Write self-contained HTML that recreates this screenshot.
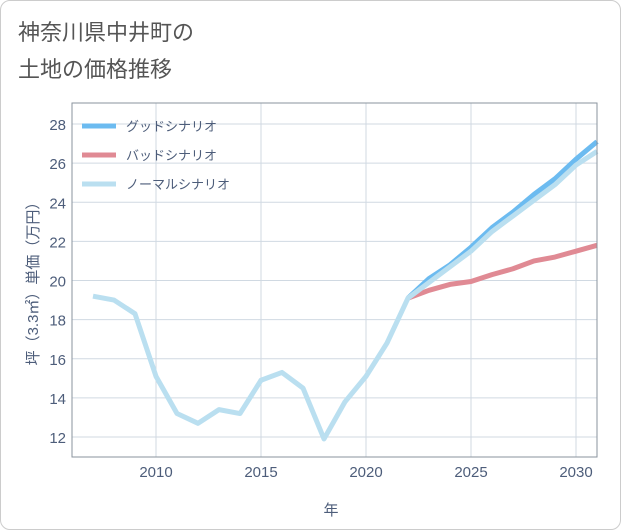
<!DOCTYPE html>
<html><head><meta charset="utf-8"><style>
body{margin:0;background:#fff;font-family:"Liberation Sans","Noto Sans CJK JP",sans-serif;}
#wrap{position:relative;width:619px;height:528px;border:1px solid #ccc;border-radius:10px;background:#fff;overflow:hidden}
</style></head><body>
<div id="wrap">
<svg id="chart" width="621" height="530" style="position:absolute;left:-1px;top:-1px">
<text x="18" y="40" font-size="22" fill="#555">神奈川県中井町の</text>
<text x="18" y="77" font-size="22" fill="#555">土地の価格推移</text>
<g id="grid"></g><g id="series"></g><g id="axes"></g>
<text x="331" y="515" font-size="15" fill="#4d5d7a" text-anchor="middle">年</text>
<text transform="translate(38,280) rotate(-90)" font-size="15" fill="#4d5d7a" text-anchor="middle">坪（3.3㎡）単価（万円）</text>
<g>
<line x1="82" y1="126" x2="116" y2="126" stroke="#6cbbf0" stroke-width="5"/>
<text x="126" y="131" font-size="13" fill="#4d5d7a">グッドシナリオ</text>
<line x1="82" y1="155" x2="116" y2="155" stroke="#e08a94" stroke-width="5"/>
<text x="126" y="160" font-size="13" fill="#4d5d7a">バッドシナリオ</text>
<line x1="82" y1="184" x2="116" y2="184" stroke="#badff0" stroke-width="5"/>
<text x="126" y="189" font-size="13" fill="#4d5d7a">ノーマルシナリオ</text>
</g>
</svg>
</div>
<script>
const years=[2007,2008,2009,2010,2011,2012,2013,2014,2015,2016,2017,2018,2019,2020,2021,2022,2023,2024,2025,2026,2027,2028,2029,2030,2031];
const normalValues=[19.2,19.0,18.3,15.1,13.2,12.7,13.4,13.2,14.9,15.3,14.5,11.9,13.8,15.1,16.8,19.1,19.9,20.7,21.5,22.5,23.3,24.1,24.9,25.9,26.6];
const forecastYears=[2022,2023,2024,2025,2026,2027,2028,2029,2030,2031];
const goodValues=[19.1,20.1,20.8,21.7,22.7,23.5,24.4,25.2,26.2,27.1];
const badValues=[19.1,19.5,19.8,19.95,20.3,20.6,21.0,21.2,21.5,21.8];
const xTicks=[2010,2015,2020,2025,2030];
const yTicks=[12,14,16,18,20,22,24,26,28];
const NS='http://www.w3.org/2000/svg';
const L=72,R=597,T=103,B=457;
const x=v=>156+(v-2010)*21;
const y=v=>437-(v-12)*19.5625;
function mk(t,a,p){const e=document.createElementNS(NS,t);for(const k in a)e.setAttribute(k,a[k]);p.appendChild(e);return e;}
const grid=document.getElementById('grid'),axes=document.getElementById('axes'),ser=document.getElementById('series');
mk('rect',{x:L,y:T,width:R-L,height:B-T,fill:'none',stroke:'#8a939e',"stroke-width":1},axes);
xTicks.forEach(t=>{const g=mk('line',{x1:x(t),x2:x(t),y1:T,y2:B,stroke:'#d0d9e2'},grid);

const tx=mk('text',{x:x(t),y:477,"font-size":15,fill:'#4d5d7a',"text-anchor":'middle'},axes);tx.textContent=t;
});
yTicks.forEach(t=>{const g=mk('line',{x1:L,x2:R,y1:y(t),y2:y(t),stroke:'#d0d9e2'},grid);

const tx=mk('text',{x:66,y:y(t)+6,"font-size":15,fill:'#4d5d7a',"text-anchor":'end'},axes);tx.textContent=t;
});
function line(xs,vs,c,n){const d=xs.map((v,i)=>(i?'L':'M')+x(v)+','+y(vs[i])).join('');
const p=mk('path',{d:d,fill:'none',stroke:c,"stroke-width":5,"stroke-linejoin":'round'},ser);
}
line(forecastYears,goodValues,'#6cbbf0','good-scenario-line');
line(forecastYears,badValues,'#e08a94','bad-scenario-line');
line(years,normalValues,'#badff0','normal-scenario-line');
</script>
</body></html>
